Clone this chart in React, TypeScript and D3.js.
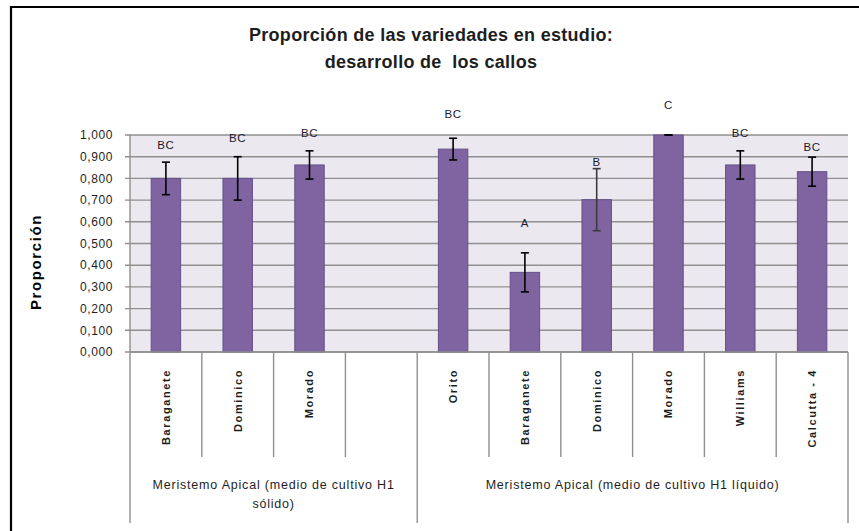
import * as d3 from 'd3'

// Data
const categories = ['Baraganete', 'Dominico', 'Morado', '', 'Orito', 'Baraganete', 'Dominico', 'Morado', 'Williams', 'Calcutta - 4']
const values = [0.8, 0.8, 0.862, null, 0.935, 0.367, 0.702, 1.0, 0.862, 0.831]
const errors = [0.075, 0.1, 0.065, null, 0.05, 0.09, 0.143, 0, 0.065, 0.067]
const letters = ['BC', 'BC', 'BC', '', 'BC', 'A', 'B', 'C', 'BC', 'BC']
const letterAt = [0.954, 0.986, 1.009, null, 1.097, 0.594, 0.876, 1.138, 1.009, 0.945]
const groupSizes = [4, 6]
const groupLabels = [
  ['Meristemo Apical (medio de cultivo H1', 'sólido)'],
  ['Meristemo Apical (medio de cultivo H1 líquido)'],
]
const yTicks = [0, 0.1, 0.2, 0.3, 0.4, 0.5, 0.6, 0.7, 0.8, 0.9, 1.0]

const W = 859
const H = 531
const FONT = '"Liberation Sans", Arial, sans-serif'
const TEXT = '#1e1e1e'

export default function App() {
  const margin = { top: 135, right: 11, bottom: 179, left: 130 }
  const x = d3.scaleBand<number>()
    .domain(d3.range(categories.length))
    .range([margin.left, W - margin.right])
    .padding(0)
  const y = d3.scaleLinear().domain([0, 1]).range([H - margin.bottom, margin.top])
  const fmt = (v: number) => d3.format('.3f')(v).replace('.', ',')
  const bw = x.bandwidth() * 0.41
  const y0 = y(0)

  // group boundaries as slot indices
  let acc = 0
  const groups = groupSizes.map((n, i) => {
    const g = { start: acc, end: acc + n, lines: groupLabels[i] }
    acc += n
    return g
  })
  const xAt = (i: number) => (i < categories.length ? x(i)! : x(categories.length - 1)! + x.bandwidth())

  return (
    <svg width={W} height={H} style={{ position: 'absolute', left: 0, top: 0, background: '#fff' }}>
      {/* outer frame */}
      <line x1={10} x2={W} y1={7} y2={7} stroke="#000" strokeWidth={2.2} />
      <line x1={11} x2={11} y1={6} y2={H} stroke="#000" strokeWidth={2.2} />

      {/* title */}
      <g fontFamily={FONT} fontWeight="bold" fontSize={18} fill={TEXT} textAnchor="middle">
        <text x={431} y={41} letterSpacing={0.3}>Proporción de las variedades en estudio:</text>
        <text x={431} y={68} letterSpacing={0.3} xmlSpace="preserve">{'desarrollo de  los callos'}</text>
      </g>

      {/* plot area */}
      <rect x={margin.left} y={margin.top} width={W - margin.right - margin.left} height={y0 - margin.top} fill="#ebe9ef" />
      {yTicks.map(t => (
        <g key={t}>
          <line x1={margin.left - 5} x2={W - margin.right} y1={y(t)} y2={y(t)} stroke="#8f8f8f" strokeWidth={1.4} />
          <text x={113} y={y(t)} dy="0.35em" textAnchor="end" fontFamily={FONT} fontSize={12} letterSpacing={0.6} fill={TEXT}>
            {fmt(t)}
          </text>
        </g>
      ))}
      <line x1={margin.left} x2={margin.left} y1={margin.top} y2={y0} stroke="#8f8f8f" strokeWidth={1.4} />

      {/* y title */}
      <text
        transform={`translate(36,${262}) rotate(-90)`}
        textAnchor="middle"
        dy="0.35em"
        fontFamily={FONT}
        fontWeight="bold"
        fontSize={15}
        letterSpacing={1.6}
        fill="#000"
      >
        Proporción
      </text>

      {/* bars */}
      {values.map((v, i) => {
        if (v == null) return null
        const cx = x(i)! + x.bandwidth() / 2
        return (
          <rect key={i} x={cx - bw / 2} y={y(v)} width={bw} height={y0 - y(v)} fill="#8064a2" stroke="#64508a" strokeWidth={1} />
        )
      })}

      {/* error bars */}
      {values.map((v, i) => {
        const e = errors[i]
        if (v == null || e == null) return null
        const cx = x(i)! + x.bandwidth() / 2
        const hi = y(Math.min(1, v + e))
        const lo = y(v - e)
        return (
          <g key={i} stroke={i === 6 ? '#3a3a3a' : '#000'} strokeWidth={1.6}>
            <line x1={cx} x2={cx} y1={hi} y2={lo} />
            <line x1={cx - 4} x2={cx + 4} y1={hi} y2={hi} />
            <line x1={cx - 4} x2={cx + 4} y1={lo} y2={lo} />
          </g>
        )
      })}

      {/* significance letters */}
      {letters.map((l, i) => {
        const p = letterAt[i]
        if (!l || p == null) return null
        const cx = x(i)! + x.bandwidth() / 2
        return (
          <text key={i} x={cx} y={y(p)} dy="0.35em" textAnchor="middle" fontFamily={FONT} fontSize={11.5} letterSpacing={0.6} fill="#1a1a2e">
            {l}
          </text>
        )
      })}

      {/* category axis */}
      <line x1={margin.left} x2={W - margin.right} y1={y0} y2={y0} stroke="#8f8f8f" strokeWidth={1.4} />
      {d3.range(categories.length + 1).map(i => {
        const isGroupEdge = groups.some(g => g.start === i || g.end === i)
        return (
          <line key={i} x1={xAt(i)} x2={xAt(i)} y1={y0} y2={isGroupEdge ? 523 : 457} stroke="#8f8f8f" strokeWidth={1.4} />
        )
      })}
      {categories.map((c, i) => {
        const cx = x(i)! + x.bandwidth() / 2
        return (
          <text
            key={i}
            transform={`translate(${cx},${369}) rotate(-90)`}
            textAnchor="end"
            dy="0.35em"
            fontFamily={FONT}
            fontWeight="bold"
            fontSize={11}
            letterSpacing={1.6}
            fill={TEXT}
          >
            {c}
          </text>
        )
      })}
      {groups.map((g, gi) => {
        const cx = (xAt(g.start) + xAt(g.end)) / 2
        return (
          <text key={gi} x={cx} y={485} textAnchor="middle" fontFamily={FONT} fontSize={12.5} letterSpacing={0.8} fill={TEXT}>
            {g.lines.map((ln, li) => (
              <tspan key={li} x={cx} dy={li === 0 ? '0.35em' : 19}>
                {ln}
              </tspan>
            ))}
          </text>
        )
      })}
    </svg>
  )
}
